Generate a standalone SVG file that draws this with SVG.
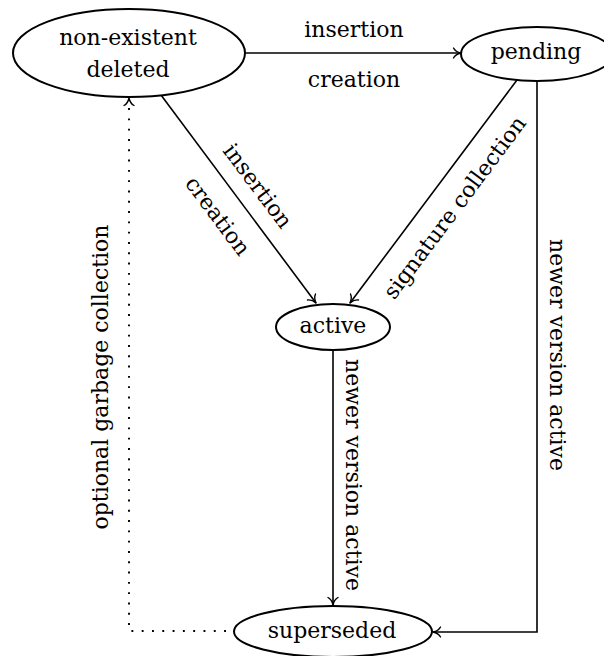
<svg xmlns="http://www.w3.org/2000/svg" width="604" height="656" viewBox="0 0 604 656">
<style>
  text { font-family: "DejaVu Serif", "Liberation Serif", serif; font-size: 22px; fill: #000; text-anchor: middle; }
  .node { fill: #fff; stroke: #000; stroke-width: 2; }
  .edge { fill: none; stroke: #000; stroke-width: 1.6; }
  .dotted { fill: none; stroke: #000; stroke-width: 1.9; stroke-dasharray: 1.9 8.4; }
</style>
<defs>
  <marker id="arr" markerUnits="userSpaceOnUse" viewBox="-10 -6 12 12" refX="0" refY="0" markerWidth="12" markerHeight="12" orient="auto">
    <path d="M-7.5,-5 C-6,-2.2 -2.8,-0.6 0,0 C-2.8,0.6 -6,2.2 -7.5,5" fill="none" stroke="#000" stroke-width="1.4" stroke-linecap="round" stroke-linejoin="round"/>
  </marker>
</defs>
<g id="connectors">
  <path class="edge" d="M245,53 L461,53" marker-end="url(#arr)"/>
  <path class="edge" d="M161,95 L316,303" marker-end="url(#arr)"/>
  <path class="edge" d="M517,80 L350,303" marker-end="url(#arr)"/>
  <path class="edge" d="M537,81 L537,632 L433,632" marker-end="url(#arr)"/>
  <path class="edge" d="M333,350 L333,605" marker-end="url(#arr)"/>
  <path class="dotted" d="M226,631 L129,631 L129,100"/>
  <path d="M129,110 L129,98" fill="none" stroke="none" marker-end="url(#arr)"/>
  <text x="354" y="37">insertion</text>
  <text x="354" y="87">creation</text>
  <text transform="translate(251.8,190.4) rotate(53.2)">insertion</text>
  <text transform="translate(211.8,220.4) rotate(53.2)">creation</text>
  <text transform="translate(460.7,211.9) rotate(-53.2)">signature collection</text>
  <text transform="translate(550,355) rotate(90)">newer version active</text>
  <text transform="translate(346,475) rotate(90)">newer version active</text>
  <text transform="translate(108,377) rotate(-90)">optional garbage collection</text>
</g>
<g id="node-nonexistent">
  <ellipse class="node" cx="129" cy="53" rx="116" ry="44"/>
  <text x="128" y="45">non-existent</text>
  <text x="128" y="77">deleted</text>
</g>
<g id="node-pending">
  <ellipse class="node" cx="537" cy="54" rx="76" ry="27"/>
  <text x="536" y="59">pending</text>
</g>
<g id="node-active">
  <ellipse class="node" cx="333" cy="327" rx="57" ry="23"/>
  <text x="333" y="333">active</text>
</g>
<g id="node-superseded">
  <ellipse class="node" cx="333" cy="631.5" rx="99" ry="25.5"/>
  <text x="332" y="638">superseded</text>
</g>
</svg>
